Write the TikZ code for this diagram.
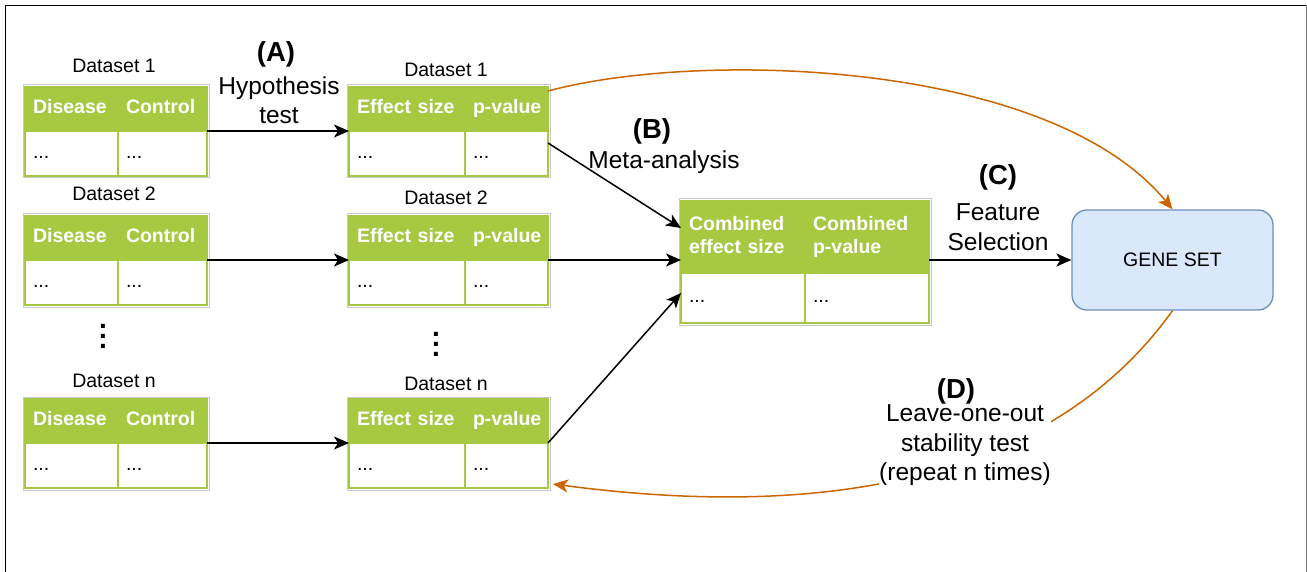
\documentclass[tikz,border=0pt]{standalone}
\usepackage{fontspec}
\setmainfont{Liberation Sans}
\usetikzlibrary{arrows.meta}
\definecolor{tgreen}{HTML}{A7C942}
\definecolor{tframe}{HTML}{C8C8C8}
\definecolor{orng}{HTML}{CC6600}
\definecolor{gfill}{HTML}{DAE8FC}
\definecolor{gdraw}{HTML}{6C8EBF}
\newcommand\tabfont{\fontsize{19.5}{23}\selectfont}
\newcommand\labfont{\fontsize{24.5}{29.5}\selectfont}
\newcommand\letfont{\fontsize{27.5}{33}\selectfont\bfseries}
\tikzset{
 cell/.style={draw=tgreen, line width=2pt, anchor=north west, inner xsep=8pt, inner ysep=0pt, outer sep=0pt, align=left, font=\tabfont},
 hcell/.style={cell, fill=tgreen, text=white, font=\tabfont\bfseries},
 bcell/.style={cell, fill=white},
 tframe/.style={draw=tframe, line width=1pt},
 dslabel/.style={font=\tabfont, anchor=base},
 lettr/.style={font=\letfont},
 lbl/.style={font=\labfont, align=center},
 dotcol/.style={font=\fontsize{28}{10}\selectfont\bfseries, align=center, inner sep=0pt},
 conn/.style={line width=1.5pt, -{Stealth[length=15pt,width=13pt,inset=4pt]}},
 oconn/.style={conn, draw=orng},
 geneset/.style={draw=gdraw, fill=gfill, line width=1.3pt, rounded corners=15pt, minimum width=201pt, minimum height=100pt, font=\tabfont},
}
\begin{document}
\begin{tikzpicture}[x=1pt,y=1pt]
\useasboundingbox (0,0) rectangle (1307,-572);
\fill[white] (0,0) rectangle (1307,-572);
\draw[line width=1.6pt] (5.5,-572) -- (5.5,-5.5) -- (1306,-5.5);
\draw[line width=0.8pt, draw=gray] (1306,-5.5) -- (1306,-572);

\foreach \n/\t/\lb/\mb in {1/87/73/77, 2/216/201/205, n/399/387/390}{
  % left table
  \node[hcell, text width=77pt, minimum height=44pt] (t\n a) at (25,-\t) {Disease\strut};
  \node[hcell, text width=73pt, minimum height=44pt] (t\n b) at (118,-\t) {Control\strut};
  \node[bcell, text width=77pt, minimum height=45pt] (t\n c) at (25,{-\t-44}) {...\strut};
  \node[bcell, text width=73pt, minimum height=45pt] (t\n d) at (118,{-\t-44}) {...\strut};
  \draw[tframe] ([shift={(-2,2)}]t\n a.north west) rectangle ([shift={(2,-2)}]t\n d.south east);
  \node[dslabel] (t\n l) at (114,-\lb) {Dataset \n};
  % middle table
  \node[hcell, text width=100pt, minimum height=44pt] (m\n a) at (349,-\t) {Effect~size\strut};
  \node[hcell, text width=67pt, minimum height=44pt] (m\n b) at (465,-\t) {\mbox{p-value}\strut};
  \node[bcell, text width=100pt, minimum height=45pt] (m\n c) at (349,{-\t-44}) {...\strut};
  \node[bcell, text width=67pt, minimum height=45pt] (m\n d) at (465,{-\t-44}) {...\strut};
  \draw[tframe] ([shift={(-2,2)}]m\n a.north west) rectangle ([shift={(2,-2)}]m\n d.south east);
  \node[dslabel] (m\n l) at (446,-\mb) {Dataset \n};
  \draw[conn] (t\n b.south east) -- (m\n a.south west);
}

% combined table
\node[hcell, text width=108pt, minimum height=72pt] (ca) at (681,-201) {Combined\strut\\effect~size\strut};
\node[hcell, text width=108pt, minimum height=72pt] (cb) at (805,-201) {Combined\strut\\\mbox{p-value}\strut};
\node[bcell, text width=108pt, minimum height=50pt] (cc) at (681,-273) {...\strut};
\node[bcell, text width=108pt, minimum height=50pt] (cd) at (805,-273) {...\strut};
\draw[tframe] ([shift={(-2,2)}]ca.north west) rectangle ([shift={(2,-2)}]cd.south east);

% gene set
\node[geneset] (gene) at (1172.5,-260) {GENE SET};

% dots
\node[dotcol] (dl) at (103,-336) {.\\.\\.};
\node[dotcol] (dm) at (436,-344) {.\\.\\.};

% connectors
\draw[conn] ([yshift=-12pt]m1d.north east) -- ([yshift=9pt]ca.west);
\draw[conn] (m2b.south east) -- (m2b.south east -| ca.west);
\draw[conn] (mnb.south east) -- ([yshift=5pt]cc.west);
\draw[conn] (gene.west -| cb.east) -- (gene.west);

\draw[oconn] ([yshift=-4pt]m1b.north east) .. controls (700,-50) and (1050,-60) .. (gene.north);
\draw[oconn] (gene.south) .. controls (1080,-440) and (900,-530) .. ([shift={(5,4)}]mnd.south east);

% labels
\node[lettr] (la) at (276,-54) {(A)};
\node[lbl] (lat) at (279,-100) {Hypothesis\\test};
\node[lettr] (lb) at (652,-131) {(B)};
\node[lbl] (lbt) at (664,-162) {Meta-analysis};
\node[lettr] (lc) at (998,-177) {(C)};
\node[lbl] (lct) at (998,-227) {Feature\\Selection};
\node[lettr] (ld) at (956,-391) {(D)};
\node[lbl, fill=white, inner sep=0.5pt] (ldt) at (965,-445.5) {Leave-one-out\\stability test\\(repeat n times)};
\end{tikzpicture}
\end{document}
